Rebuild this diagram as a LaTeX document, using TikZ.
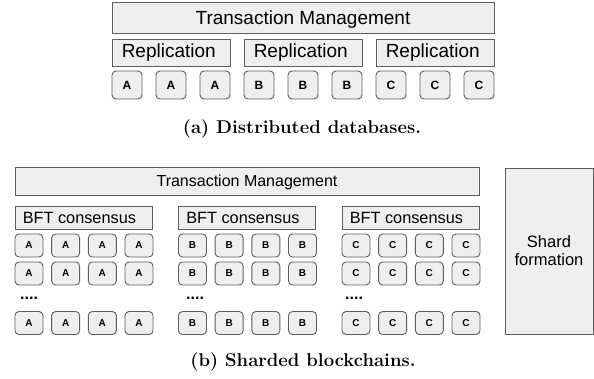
\documentclass[tikz,border=0pt]{standalone}
\usepackage{fontspec}
\newfontfamily\arial{Liberation Sans}
\definecolor{boxfill}{HTML}{EFEFEF}
\definecolor{boxline}{HTML}{5E5E5E}
\begin{document}
\begin{tikzpicture}[x=1pt,y=-1pt,
  panel/.style={draw=boxline, fill=boxfill, line width=0.9pt, inner sep=0pt},
  tmtext/.style={panel, text depth=0pt},
  cell/.style={panel, rounded corners=4pt, font=\arial\bfseries},
  lbl/.style={anchor=west, inner sep=0pt},
  caption/.style={anchor=base, inner sep=0pt, font=\rmfamily\bfseries\fontsize{18.5}{21}\selectfont}
]
\useasboundingbox (0,0) rectangle (594,379);

% ---------- (a) Distributed databases ----------
\node[tmtext, minimum width=382pt, minimum height=31pt,
      font=\arial\fontsize{19}{22}\selectfont] (tmA) at (303,17.5) {Transaction Management};
\foreach \i/\L in {0/A,1/B,2/C}{
  \node[panel, minimum width=118pt, minimum height=27pt] (rep\i) at (171+132*\i,52.5) {};
  \node[lbl, font=\arial\fontsize{19}{22}\selectfont] at ([xshift=10pt]rep\i.west) {Replication};
  \foreach \j in {0,1,2}{
    \node[cell, minimum width=30pt, minimum height=28pt, font=\arial\bfseries\fontsize{12}{14}\selectfont]
      (ca\i\j) at (127+132*\i+44*\j,85) {\L};
  }
}
\node[caption] (capA) at (302,134) {(a) Distributed databases.};

% ---------- (b) Sharded blockchains ----------
\node[tmtext, minimum width=464pt, minimum height=28pt,
      font=\arial\fontsize{16}{19}\selectfont] (tmB) at (247,181) {Transaction Management};
\foreach \i/\L/\dx in {0/A/21,1/B/187,2/C/346}{
  \node[panel, minimum width=137pt, minimum height=23pt] (bft\i) at (83.5+163.5*\i,217.5) {};
  \node[lbl, font=\arial\fontsize{16.3}{19}\selectfont] at ([xshift=8pt]bft\i.west) {BFT consensus};
  \foreach \r/\y in {1/245.5,2/273.5,3/323}{
    \foreach \j in {0,1,2,3}{
      \node[cell, minimum width=28pt, minimum height=23pt, font=\arial\bfseries\fontsize{10}{12}\selectfont]
        (cb\i\r\j) at (29+163.5*\i+36.67*\j,\y) {\L};
    }
  }
  \node[anchor=base west, inner sep=0pt, font=\arial\bfseries\fontsize{16}{19}\selectfont]
    (dots\i) at (\dx-1,299) {....};
}
\node[panel, minimum width=88pt, minimum height=166pt, align=center,
      font=\arial\fontsize{16.5}{18}\selectfont] (shard) at (549,251) {Shard\\formation};
\node[caption] (capB) at (303,366) {(b) Sharded blockchains.};
\end{tikzpicture}
\end{document}
